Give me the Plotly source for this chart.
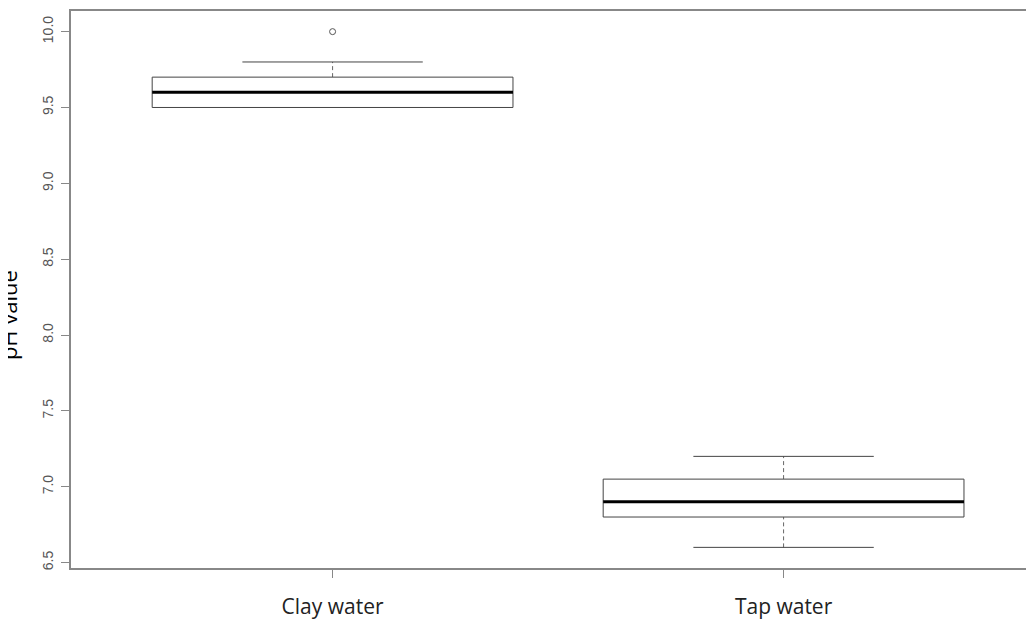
import plotly.graph_objects as go

categories = ["Clay water", "Tap water"]
lower_whisker = [9.5, 6.6]
q1 = [9.5, 6.8]
median = [9.6, 6.9]
q3 = [9.7, 7.05]
upper_whisker = [9.8, 7.2]
outliers = [[10.0], []]
y_ticks = [6.5, 7.0, 7.5, 8.0, 8.5, 9.0, 9.5, 10.0]

BOX_W = 0.8
CAP_W = 0.4
EDGE = "#444444"
AXIS = "#888888"

fig = go.Figure()
for i, cat in enumerate(categories):
    x = i + 1
    # dashed whiskers
    for a, b in ((q3[i], upper_whisker[i]), (lower_whisker[i], q1[i])):
        if b > a:
            fig.add_trace(go.Scatter(x=[x, x], y=[a, b], mode="lines",
                                     line=dict(color="#666666", width=1, dash="4px,3px"),
                                     hoverinfo="skip", showlegend=False))
    # caps
    for v in (upper_whisker[i], lower_whisker[i]):
        fig.add_trace(go.Scatter(x=[x - CAP_W / 2, x + CAP_W / 2], y=[v, v], mode="lines",
                                 line=dict(color=EDGE, width=1),
                                 hoverinfo="skip", showlegend=False))
    # box
    x0, x1 = x - BOX_W / 2, x + BOX_W / 2
    fig.add_trace(go.Scatter(x=[x0, x1, x1, x0, x0], y=[q1[i], q1[i], q3[i], q3[i], q1[i]],
                             mode="lines", line=dict(color=EDGE, width=1),
                             fill="toself", fillcolor="white",
                             hoverinfo="skip", showlegend=False))
    # median
    fig.add_trace(go.Scatter(x=[x0, x1], y=[median[i], median[i]], mode="lines",
                             line=dict(color="black", width=3),
                             hoverinfo="skip", showlegend=False))
    if outliers[i]:
        fig.add_trace(go.Scatter(x=[x] * len(outliers[i]), y=outliers[i], mode="markers",
                                 marker=dict(symbol="circle-open", size=6,
                                             color="#555555", line=dict(width=1)),
                                 showlegend=False))

L = 63
plot_w = 1034 - L
fig.update_layout(
    width=1034, height=619,
    margin=dict(l=L, r=0, t=3, b=59),
    paper_bgcolor="white", plot_bgcolor="white",
    font=dict(family="Liberation Sans, Arial, sans-serif"),
    xaxis=dict(range=[0.42, 0.42 + plot_w / 451.0], tickvals=[1, 2], ticktext=categories,
               showgrid=False, zeroline=False, showline=True, mirror=True,
               linecolor=AXIS, linewidth=1.5, ticks="outside", ticklen=8,
               tickcolor=AXIS, tickfont=dict(family="Open Sans, Noto Sans, sans-serif",
                                             size=21, color="#222222"),
               ticklabelstandoff=11),
    yaxis=dict(range=[6.464, 10.136], tickvals=y_ticks,
               ticktext=[f"{v:.1f}" for v in y_ticks], tickangle=-90,
               showgrid=False, zeroline=False, showline=True, mirror=False,
               linecolor=AXIS, linewidth=1.5, ticks="outside", ticklen=8,
               tickcolor=AXIS, tickfont=dict(size=14, color="#555555"),
               ticklabelstandoff=3),
    annotations=[dict(text="pH value", textangle=-90, xref="paper", yref="paper",
                      x=-L / plot_w, y=0.454, xanchor="center", yanchor="middle",
                      showarrow=False,
                      font=dict(size=22, color="black", family="Open Sans, sans-serif"))],
)
fig.write_html("out.html")
